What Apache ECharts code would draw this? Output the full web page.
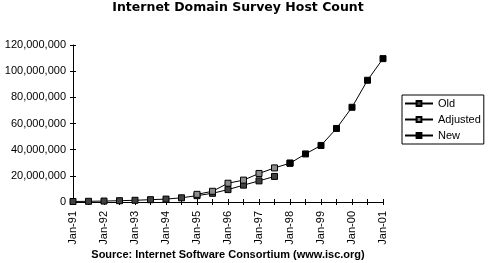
<!DOCTYPE html>
<html>
<head>
<meta charset="utf-8">
<script src="https://cdn.jsdelivr.net/npm/echarts@6/dist/echarts.min.js"></script>
<style>
  html, body { margin: 0; padding: 0; background: #fff; }
  #chart { width: 489px; height: 263px; }
</style>
</head>
<body>
<div id="chart"></div>
<script>
// ---- Data ----
var categories = ['Jan-91','Jul-91','Jan-92','Jul-92','Jan-93','Jul-93','Jan-94','Jul-94',
  'Jan-95','Jul-95','Jan-96','Jul-96','Jan-97','Jul-97','Jan-98','Jul-98',
  'Jan-99','Jul-99','Jan-00','Jul-00','Jan-01'];
var oldCount = [376000, 535000, 727000, 992000, 1313000, 1776000, 2217000, 3212000,
  4852000, 6642000, 9472000, 12881000, 16146000, 19540000, null, null,
  null, null, null, null, null];
var adjustedCount = [null, null, null, null, null, null, null, null,
  5846000, 8200000, 14352000, 16729000, 21819000, 26053000, 29670000, null,
  null, null, null, null, null];
var newCount = [null, null, null, null, null, null, null, null,
  null, null, null, null, null, null, 29670000, 36739000,
  43230000, 56218000, 72398092, 93047785, 109574429];
var yTicks = [0, 20000000, 40000000, 60000000, 80000000, 100000000, 120000000];
var titleText = 'Internet Domain Survey Host Count';
var sourceText = 'Source: Internet Software Consortium (www.isc.org)';

var FONT = '"Liberation Sans", Arial, sans-serif';
var chart = echarts.init(document.getElementById('chart'), null, { renderer: 'canvas' });

function mkSeries(name, data, fill) {
  return {
    name: name,
    type: 'line',
    data: data,
    xAxisIndex: 0,
    yAxisIndex: 0,
    connectNulls: false,
    symbol: 'rect',
    symbolSize: 6,
    animation: false,
    lineStyle: { color: '#000', width: 1 },
    itemStyle: { color: fill, borderColor: '#000', borderWidth: 1 },
    emphasis: { disabled: true }
  };
}

var option = {
  animation: false,
  backgroundColor: '#fff',
  title: [
    {
      text: titleText,
      left: 238, top: 1, textAlign: 'center', padding: 0,
      textStyle: { fontFamily: '"DejaVu Sans", sans-serif', fontWeight: 'bold', fontSize: 12.5, color: '#000' }
    },
    {
      text: sourceText,
      left: 228, top: 249, textAlign: 'center', padding: 0,
      textStyle: { fontFamily: FONT, fontWeight: 'bold', fontSize: 11, color: '#000' }
    }
  ],
  legend: {
    orient: 'vertical',
    left: 402, top: 95,
    borderColor: '#000', borderWidth: 1,
    padding: [3, 3, 3, 2],
    itemGap: 5,
    itemWidth: 28, itemHeight: 6,
    textStyle: { fontFamily: FONT, fontSize: 11, color: '#000' },
    data: ['Old', 'Adjusted', 'New']
  },
  grid: { left: 73, right: 106, top: 45, bottom: 61, containLabel: false },
  xAxis: [
    {
      type: 'category', data: categories, boundaryGap: false, position: 'bottom',
      axisLine: { show: true, lineStyle: { color: '#000', width: 1 } },
      axisTick: { show: true, interval: 0, length: 3, lineStyle: { color: '#000' } },
      axisLabel: { interval: 1, rotate: 90, margin: 9, fontFamily: FONT, fontSize: 11, color: '#000' },
      splitLine: { show: false }
    },
    {
      type: 'category', data: categories, boundaryGap: false, position: 'bottom', offset: 0,
      axisLine: { show: false },
      axisTick: { show: true, inside: true, interval: 0, length: 3, lineStyle: { color: '#000' } },
      axisLabel: { show: false },
      splitLine: { show: false }
    }
  ],
  yAxis: [
    {
      type: 'value', min: yTicks[0], max: yTicks[yTicks.length - 1], interval: yTicks[1] - yTicks[0],
      position: 'left',
      axisLine: { show: true, lineStyle: { color: '#000', width: 1 } },
      axisTick: { show: true, length: 3, lineStyle: { color: '#000' } },
      axisLabel: { margin: 7, fontFamily: FONT, fontSize: 11, color: '#000',
        formatter: function (v) { return v.toLocaleString('en-US'); } },
      splitLine: { show: false }
    },
    {
      type: 'value', min: yTicks[0], max: yTicks[yTicks.length - 1], interval: yTicks[1] - yTicks[0],
      position: 'left', offset: 0,
      axisLine: { show: false },
      axisTick: { show: true, inside: true, length: 3, lineStyle: { color: '#000' } },
      axisLabel: { show: false },
      splitLine: { show: false }
    }
  ],
  series: [
    mkSeries('Old', oldCount, '#404040'),
    mkSeries('Adjusted', adjustedCount, '#8c8c8c'),
    mkSeries('New', newCount, '#000')
  ]
};
chart.setOption(option);
</script>
</body>
</html>
